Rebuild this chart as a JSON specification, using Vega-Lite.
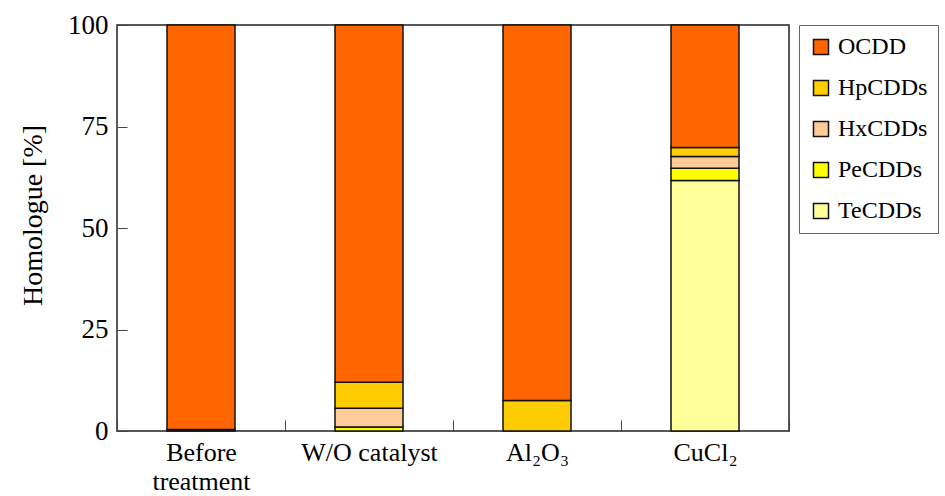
{
  "$schema": "https://vega.github.io/schema/vega-lite/v6.json",
  "width": 672,
  "height": 406,
  "autosize": {"type": "none"},
  "padding": {"left": 117, "top": 25, "right": 156, "bottom": 65},
  "background": "white",
  "config": {
    "font": "Liberation Serif",
    "view": {"stroke": "#222", "strokeWidth": 1.5},
    "axis": {"domain": false, "grid": false, "labelFont": "Liberation Serif", "titleFont": "Liberation Serif", "labelColor": "black", "titleColor": "black", "titleFontWeight": "normal", "tickColor": "#444", "tickWidth": 1}
  },
  "data": {
    "values": [
      {"sample": "Before treatment", "homologue": "HpCDDs", "value": 0.4, "order": 4},
      {"sample": "Before treatment", "homologue": "OCDD", "value": 99.6, "order": 5},
      {"sample": "W/O catalyst", "homologue": "PeCDDs", "value": 1.0, "order": 2},
      {"sample": "W/O catalyst", "homologue": "HxCDDs", "value": 4.6, "order": 3},
      {"sample": "W/O catalyst", "homologue": "HpCDDs", "value": 6.4, "order": 4},
      {"sample": "W/O catalyst", "homologue": "OCDD", "value": 88.0, "order": 5},
      {"sample": "Al₂O₃", "homologue": "HpCDDs", "value": 7.5, "order": 4},
      {"sample": "Al₂O₃", "homologue": "OCDD", "value": 92.5, "order": 5},
      {"sample": "CuCl₂", "homologue": "TeCDDs", "value": 61.7, "order": 1},
      {"sample": "CuCl₂", "homologue": "PeCDDs", "value": 3.0, "order": 2},
      {"sample": "CuCl₂", "homologue": "HxCDDs", "value": 2.9, "order": 3},
      {"sample": "CuCl₂", "homologue": "HpCDDs", "value": 2.2, "order": 4},
      {"sample": "CuCl₂", "homologue": "OCDD", "value": 30.2, "order": 5}
    ]
  },
  "mark": {"type": "bar", "width": 68, "stroke": "#111", "strokeWidth": 1.5},
  "encoding": {
    "x": {
      "field": "sample", "type": "nominal",
      "sort": ["Before treatment", "W/O catalyst", "Al₂O₃", "CuCl₂"],
      "scale": {"paddingInner": 0, "paddingOuter": 0},
      "axis": {
        "title": null, "labelAngle": 0, "labelFontSize": 26, "labelPadding": 19,
        "tickBand": "extent", "tickSize": -11, "labelLineHeight": 29,
        "labelExpr": "datum.label == 'Before treatment' ? ['Before', 'treatment'] : datum.label"
      }
    },
    "y": {
      "field": "value", "type": "quantitative", "stack": "zero",
      "scale": {"domain": [0, 100], "nice": false},
      "axis": {
        "title": "Homologue [%]", "values": [0, 25, 50, 75, 100],
        "labelFontSize": 27, "titleFontSize": 28, "tickSize": -10, "labelPadding": 19, "titlePadding": 20,
        "titleY": 190
      }
    },
    "color": {
      "field": "homologue", "type": "nominal",
      "scale": {
        "domain": ["OCDD", "HpCDDs", "HxCDDs", "PeCDDs", "TeCDDs"],
        "range": ["#FF6600", "#FFCC00", "#FFCC99", "#FFFF00", "#FFFF99"]
      },
      "legend": {
        "title": null, "orient": "none", "legendX": 682, "legendY": 0,
        "symbolType": "square", "symbolSize": 225, "symbolStrokeColor": "#111", "symbolStrokeWidth": 1.5,
        "symbolOpacity": 1,
        "labelFont": "Liberation Serif", "labelFontSize": 24, "labelColor": "black", "labelOffset": 5,
        "rowPadding": 17, "padding": 10, "strokeColor": "#666", "fillColor": "white"
      }
    },
    "order": {"field": "order", "sort": "ascending"}
  }
}
